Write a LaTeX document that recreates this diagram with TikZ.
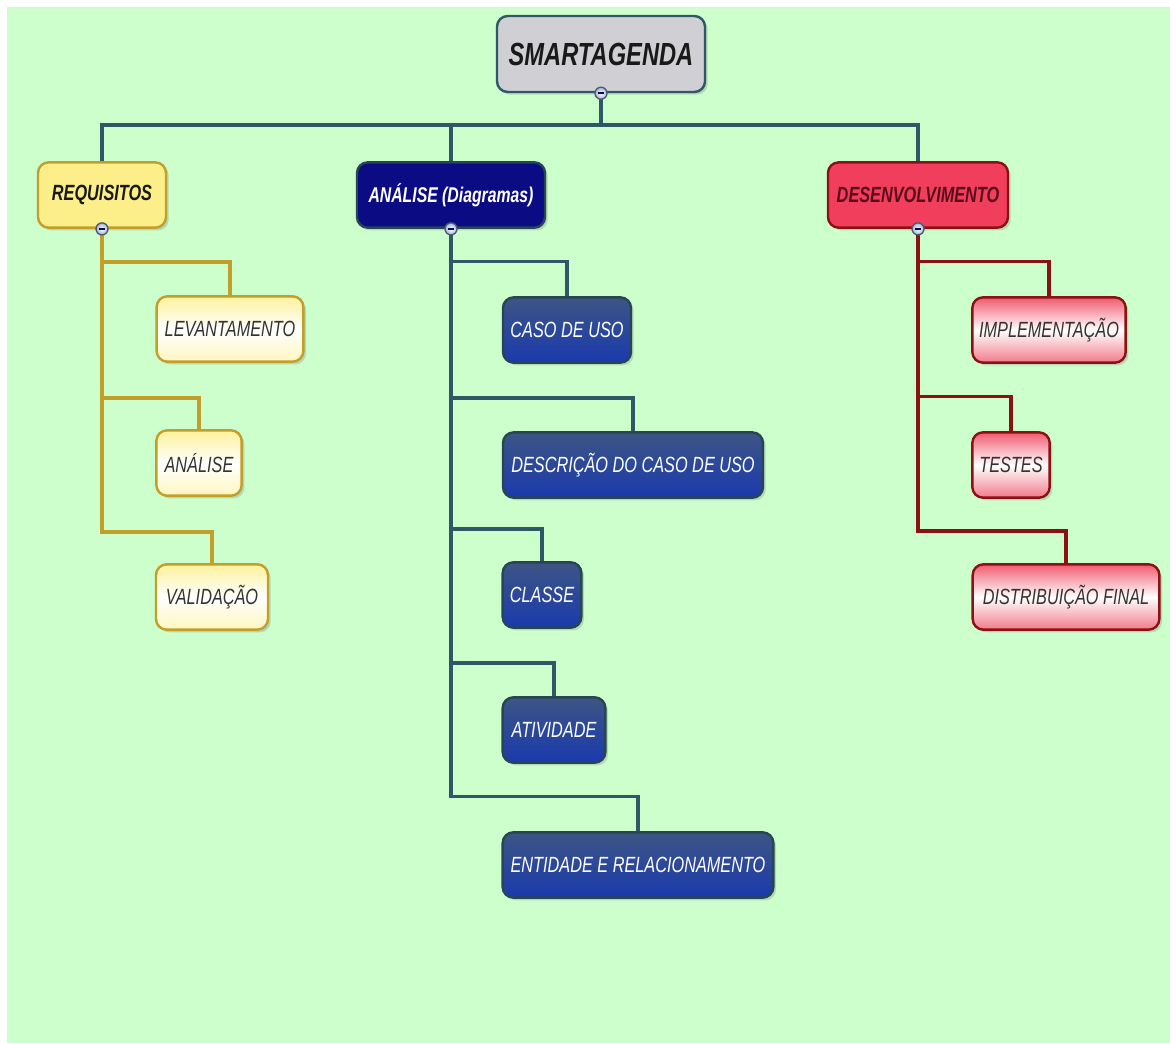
\documentclass[tikz,border=0pt]{standalone}
\usepackage{fontspec}
\newfontfamily\mapfont[FakeStretch=0.74]{Liberation Sans}
\usetikzlibrary{shadows}

\definecolor{bggreen}{HTML}{CCFFCC}
\definecolor{tealline}{HTML}{2E5866}
\definecolor{goldline}{HTML}{C29E2A}
\definecolor{redline}{HTML}{8A1212}
\definecolor{rootgray}{HTML}{D0D0D4}
\definecolor{reqyellow}{HTML}{FCEF8A}
\definecolor{navyfill}{HTML}{0B0B84}
\definecolor{bluetop}{HTML}{3E5584}
\definecolor{bluebot}{HTML}{1A3AAE}
\definecolor{crimson}{HTML}{F03E5C}
\definecolor{pinktop}{HTML}{F05A70}
\definecolor{pinkbot}{HTML}{F27A8A}
\definecolor{maroontext}{HTML}{5A0C18}
\definecolor{toggleedge}{HTML}{4E5A70}
\definecolor{togglefill}{HTML}{9FB4D4}

\tikzset{
  box/.style={rounded corners=8pt, line width=1.8pt, minimum height=49pt,
    inner sep=2pt, text=black!80,
    font=\mapfont\itshape\fontsize{16.5}{18}\selectfont,
    drop shadow={opacity=0.3, shadow xshift=2pt, shadow yshift=-2pt}},
  rootbox/.style={box, fill=rootgray, draw=tealline, minimum height=57pt,
    font=\mapfont\bfseries\itshape\fontsize{24}{28}\selectfont, text=black!90},
  reqbox/.style={box, fill=reqyellow, draw=goldline,
    font=\mapfont\bfseries\itshape\fontsize{16.5}{19}\selectfont, text=black!90},
  anabox/.style={box, fill=navyfill, draw=tealline!80!black,
    font=\mapfont\bfseries\itshape\fontsize{16}{19}\selectfont, text=white},
  devbox/.style={box, fill=crimson, draw=redline,
    font=\mapfont\bfseries\itshape\fontsize{16.5}{19}\selectfont, text=maroontext},
  yellowleaf/.style={box, draw=goldline, top color=reqyellow!85, bottom color=reqyellow!55, middle color=white},
  blueleaf/.style={box, draw=tealline!80!black, top color=bluetop, bottom color=bluebot, text=white},
  redleaf/.style={box, draw=redline, top color=pinktop, bottom color=pinkbot, middle color=white},
  toggle/.style={circle, draw=toggleedge, line width=1pt, minimum size=9pt, inner sep=0pt,
    inner color=white, outer color=togglefill,
    path picture={\draw[line width=1.6pt, navyfill!70!black]
      ([xshift=-2.2pt]path picture bounding box.center) -- ([xshift=2.2pt]path picture bounding box.center);}},
  mainline/.style={draw=tealline, line width=2.6pt},
  reqline/.style={draw=goldline, line width=3pt},
  devline/.style={draw=redline, line width=2.8pt},
}

\begin{document}
\begin{tikzpicture}[x=0.75pt, y=-0.75pt]
  % page and background
  \fill[white] (0,0) rectangle (1170,1043);
  \fill[bggreen] (7,7) rectangle (1170,1043);

  % top level
  \node[rootbox, minimum width=156pt] (root) at (601,54) {SMARTAGENDA};
  \node[reqbox, minimum width=96pt] (req) at (102,195) {REQUISITOS};
  \node[anabox, minimum width=141pt] (ana) at (451,195) {ANÁLISE (Diagramas)};
  \node[devbox, minimum width=135pt] (dev) at (918,195) {DESENVOLVIMENTO};

  % requisitos
  \node[yellowleaf, minimum width=110pt] (lev) at (230,329) {LEVANTAMENTO};
  \node[yellowleaf, minimum width=64pt] (anl) at (199,463) {ANÁLISE};
  \node[yellowleaf, minimum width=84pt] (val) at (212,597) {VALIDAÇÃO};

  % analise
  \node[blueleaf, minimum width=96pt] (uso) at (567,330) {CASO DE USO};
  \node[blueleaf, minimum width=195pt] (desc) at (633,465) {DESCRIÇÃO DO CASO DE USO};
  \node[blueleaf, minimum width=59pt] (cls) at (542,595) {CLASSE};
  \node[blueleaf, minimum width=77pt] (ativ) at (554,730) {ATIVIDADE};
  \node[blueleaf, minimum width=203pt] (ent) at (638,865) {ENTIDADE E RELACIONAMENTO};

  % desenvolvimento
  \node[redleaf, minimum width=115pt] (impl) at (1049,330) {IMPLEMENTAÇÃO};
  \node[redleaf, minimum width=58pt] (tst) at (1011,465) {TESTES};
  \node[redleaf, minimum width=140pt] (dist) at (1066,597) {DISTRIBUIÇÃO FINAL};

  % connectors
  \draw[mainline] (root.south) |- ([yshift=27pt]req.north) -- (req.north);
  \draw[mainline] (root.south) |- ([yshift=27pt]ana.north) -- (ana.north);
  \draw[mainline] (root.south) |- ([yshift=27pt]dev.north) -- (dev.north);

  \draw[reqline] (req.south) |- ([yshift=25pt]lev.north) -- (lev.north);
  \draw[reqline] (req.south) |- ([yshift=23pt]anl.north) -- (anl.north);
  \draw[reqline] (req.south) |- ([yshift=23pt]val.north) -- (val.north);

  \draw[mainline] (ana.south) |- ([yshift=26pt]uso.north) -- (uso.north);
  \draw[mainline] (ana.south) |- ([yshift=25pt]desc.north) -- (desc.north);
  \draw[mainline] (ana.south) |- ([yshift=24pt]cls.north) -- (cls.north);
  \draw[mainline] (ana.south) |- ([yshift=25pt]ativ.north) -- (ativ.north);
  \draw[mainline] (ana.south) |- ([yshift=26pt]ent.north) -- (ent.north);

  \draw[devline] (dev.south) |- ([yshift=26pt]impl.north) -- (impl.north);
  \draw[devline] (dev.south) |- ([yshift=26pt]tst.north) -- (tst.north);
  \draw[devline] (dev.south) |- ([yshift=24pt]dist.north) -- (dist.north);

  % collapse toggles
  \node[toggle] (rootT) at (root.south) {};
  \node[toggle] (reqT) at (req.south) {};
  \node[toggle] (anaT) at (ana.south) {};
  \node[toggle] (devT) at (dev.south) {};
\end{tikzpicture}
\end{document}
